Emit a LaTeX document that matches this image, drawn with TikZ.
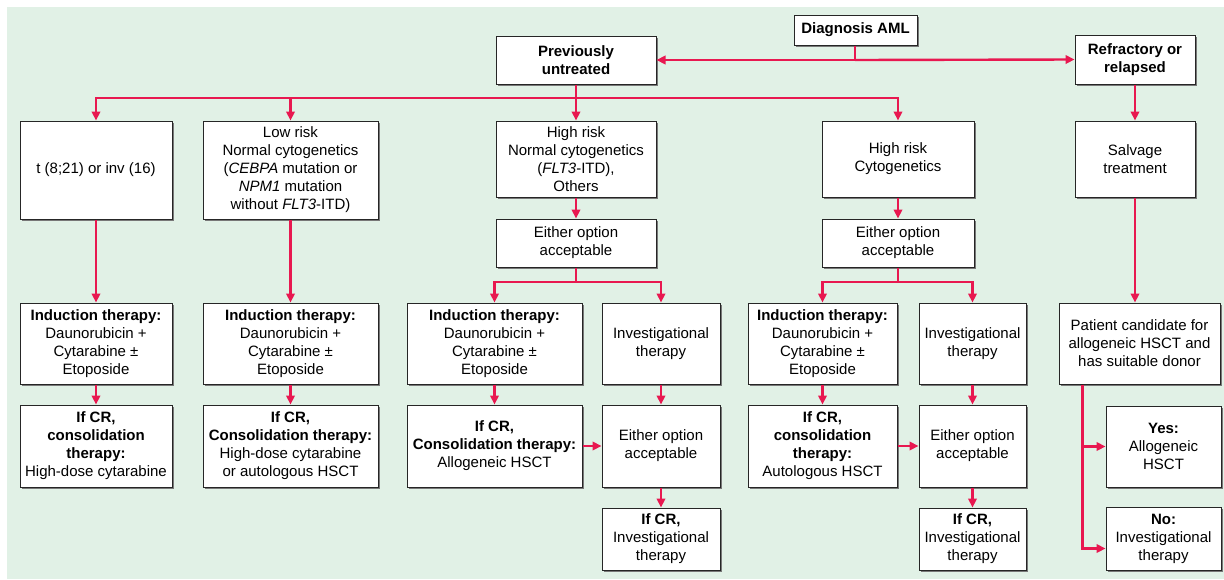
\documentclass[tikz,border=0pt]{standalone}
\usepackage{fontspec}
\setmainfont{Liberation Sans}
\usetikzlibrary{arrows.meta,shadows,calc}
\definecolor{bgg}{RGB}{225,241,230}
\definecolor{lnred}{RGB}{232,24,80}
\definecolor{shd}{RGB}{120,120,120}
\tikzset{
  box/.style={draw=black!85, line width=1pt, fill=white, inner sep=0pt, align=center,
    font=\fontsize{15}{18}\selectfont,
    drop shadow={shadow xshift=2pt, shadow yshift=-2pt, fill=shd, opacity=1}},
  conn/.style={draw=lnred, line width=2.4pt},
  arr/.style={conn, -{Triangle[length=9pt,width=8.5pt]}},
}
\newcommand{\bx}[6]{\node[box, minimum width={(#4-#2)*1pt}, minimum height={(#5-#3)*1pt}] (#1) at ({(#2+#4)/2},{(#3+#5)/2}) {#6};}
\begin{document}
\begin{tikzpicture}[x=1pt,y=-1pt]
\useasboundingbox (0,0) rectangle (1224,579);
\fill[bgg] (7,7) rectangle (1224,579);
% top
\bx{dx}{794}{15}{917}{45}{\textbf{Diagnosis AML}}
\bx{pu}{496}{36}{656}{84}{\textbf{Previously}\\\textbf{untreated}}
\bx{rr}{1075}{35}{1195}{84}{\textbf{Refractory or}\\\textbf{relapsed}}
% row 2
\bx{b1}{20}{121}{172}{219}{t (8;21) or inv (16)}
\bx{b2}{203}{121}{378}{219}{Low risk\\Normal cytogenetics\\(\textit{CEBPA} mutation or\\\textit{NPM1} mutation\\without \textit{FLT3}-ITD)}
\bx{b3}{496}{121}{656}{197}{High risk\\Normal cytogenetics\\(\textit{FLT3}-ITD),\\Others}
\bx{b4}{822}{121}{974}{197}{High risk\\Cytogenetics}
\bx{sal}{1075}{121}{1195}{197}{Salvage\\treatment}
\bx{e1}{496}{219}{656}{267}{Either option\\acceptable}
\bx{e2}{822}{219}{974}{267}{Either option\\acceptable}
% row 3
\bx{i1}{20}{303}{172}{384}{\textbf{Induction therapy:}\\Daunorubicin +\\Cytarabine ±\\Etoposide}
\bx{i2}{203}{303}{378}{384}{\textbf{Induction therapy:}\\Daunorubicin +\\Cytarabine ±\\Etoposide}
\bx{i3}{407}{303}{582}{384}{\textbf{Induction therapy:}\\Daunorubicin +\\Cytarabine ±\\Etoposide}
\bx{v1}{602}{303}{720}{384}{Investigational\\therapy}
\bx{i4}{748}{303}{897}{384}{\textbf{Induction therapy:}\\Daunorubicin +\\Cytarabine ±\\Etoposide}
\bx{v2}{919}{303}{1026}{384}{Investigational\\therapy}
\bx{pat}{1059}{303}{1220}{384}{Patient candidate for\\allogeneic HSCT and\\has suitable donor}
% row 4
\bx{c1}{20}{405}{172}{487}{\textbf{If CR,}\\\textbf{consolidation}\\\textbf{therapy:}\\High-dose cytarabine}
\bx{c2}{203}{405}{378}{487}{\textbf{If CR,}\\\textbf{Consolidation therapy:}\\High-dose cytarabine\\or autologous HSCT}
\bx{c3}{407}{405}{582}{487}{\textbf{If CR,}\\\textbf{Consolidation therapy:}\\Allogeneic HSCT}
\bx{e3}{602}{405}{720}{487}{Either option\\acceptable}
\bx{c4}{748}{405}{897}{487}{\textbf{If CR,}\\\textbf{consolidation}\\\textbf{therapy:}\\Autologous HSCT}
\bx{e4}{919}{405}{1026}{487}{Either option\\acceptable}
\bx{yes}{1106}{406}{1221}{487}{\textbf{Yes:}\\Allogeneic\\HSCT}
% row 5
\bx{f1}{602}{508}{720}{570}{\textbf{If CR,}\\Investigational\\therapy}
\bx{f2}{919}{508}{1026}{570}{\textbf{If CR,}\\Investigational\\therapy}
\bx{no}{1106}{507}{1221}{570}{\textbf{No:}\\Investigational\\therapy}
% connectors
\coordinate (j0) at (855,60);
\draw[conn] (dx.south -| j0) -- (j0);
\draw[arr] (j0) -- (pu.east);
\draw[arr] (j0) -- (rr.west);
\coordinate (h1) at (576,98);
\draw[arr] (pu.south) -- (b3.north);
\draw[arr] (h1) -| (b1.north);
\draw[arr] (h1) -| (b2.north);
\draw[arr] (h1) -| (b4.north);
\draw[arr] (rr.south) -- (sal.north);
\draw[arr] (b1.south) -- (i1.north);
\draw[arr] (b2.south) -- (i2.north);
\draw[arr] (b3.south) -- (e1.north);
\draw[arr] (b4.south) -- (e2.north);
\coordinate (h2) at (576,282);
\draw[conn] (e1.south) -- (h2);
\draw[arr] (h2) -| (i3.north);
\draw[arr] (h2) -| (v1.north);
\coordinate (h3) at (898,282);
\draw[conn] (e2.south) -- (h3);
\draw[arr] (h3) -| (i4.north);
\draw[arr] (h3) -| (v2.north);
\draw[arr] (sal.south) -- (sal.south |- pat.north);
\draw[arr] (i1.south) -- (c1.north);
\draw[arr] (i2.south) -- (c2.north);
\draw[arr] (i3.south) -- (c3.north);
\draw[arr] (i4.south) -- (c4.north);
\draw[arr] (v1.south) -- (e3.north);
\draw[arr] (v2.south) -- (e4.north);
\draw[arr] (c3.east) -- (e3.west);
\draw[arr] (c4.east) -- (e4.west);
\draw[arr] (e3.south) -- (f1.north);
\draw[arr] (e4.south) -- (f2.north);
\coordinate (pb) at ($(pat.south west)+(24,0)$);
\draw[arr] (pb) |- (yes.west);
\draw[arr] (pb) |- ($(no.west)+(0,10)$);
\end{tikzpicture}
\end{document}
